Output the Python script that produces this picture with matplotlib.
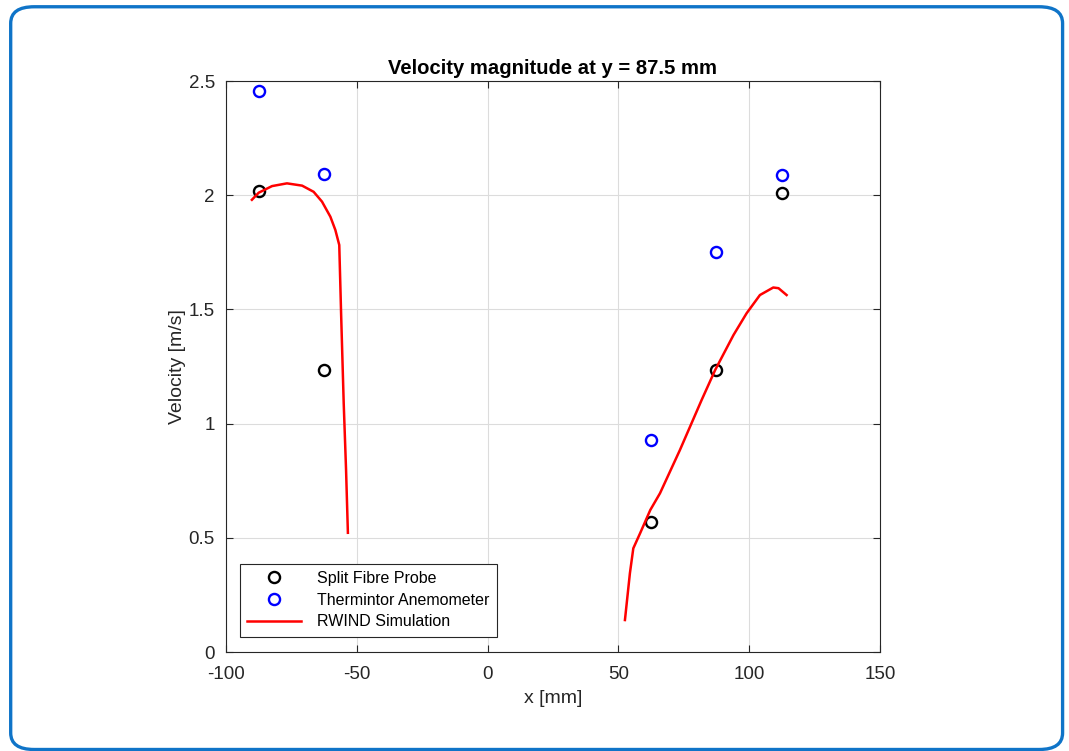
"""Velocity magnitude along y = 87.5 mm: probe measurements vs RWIND simulation."""

import matplotlib
matplotlib.use("Agg")
import matplotlib.pyplot as plt
from matplotlib.patches import FancyBboxPatch

plt.rcParams["font.family"] = ["Liberation Sans", "DejaVu Sans"]
plt.rcParams["axes.unicode_minus"] = False

# measurement positions [mm]
probe_x = [-87.5, -62.5, 62.5, 87.5, 112.5]
split_fibre = [2.018, 1.235, 0.569, 1.235, 2.01]
thermintor = [2.456, 2.093, 0.928, 1.751, 2.088]

# RWIND simulation, left and right halves of the profile
sim_left_x = [-90.1, -87.5, -82.4, -76.7, -70.9, -66.5, -63.3, -60.1, -58.2,
              -56.7, -56.0, -55.0, -54.1, -53.4]
sim_left_v = [1.98, 2.011, 2.04, 2.052, 2.042, 2.015, 1.972, 1.906, 1.848,
              1.782, 1.483, 1.089, 0.797, 0.522]
sim_right_x = [52.5, 54.4, 55.7, 58.3, 62.2, 65.9, 73.5, 81.8, 87.0, 94.0,
               99.0, 104.1, 109.2, 111.2, 114.3]
sim_right_v = [0.140, 0.345, 0.454, 0.520, 0.622, 0.695, 0.884, 1.103, 1.235,
               1.388, 1.483, 1.563, 1.596, 1.593, 1.563]

fig = plt.figure(figsize=(10.69, 7.51), dpi=100)

# rounded blue frame around the whole figure
frame = FancyBboxPatch((0.010, 0.002), 0.984, 0.989,
                       boxstyle="round,pad=0,rounding_size=0.022",
                       transform=fig.transFigure, fill=False,
                       edgecolor="#0f74c8", linewidth=2.4, zorder=0)
fig.patches.append(frame)

ax = fig.add_axes([0.2114, 0.1318, 0.6118, 0.7603])

ax.plot(probe_x, split_fibre, "o", color="black", mfc="none", ms=8, mew=1.7,
        label="Split Fibre Probe", ls="none")
ax.plot(probe_x, thermintor, "o", color="#0000ff", mfc="none", ms=8, mew=1.7,
        label="Thermintor Anemometer", ls="none")
ax.plot(sim_left_x, sim_left_v, color="#ff0000", lw=1.8, label="RWIND Simulation")
ax.plot(sim_right_x, sim_right_v, color="#ff0000", lw=1.8)

ax.set_xlim(-100, 150)
ax.set_ylim(0, 2.5)
ax.set_xticks([-100, -50, 0, 50, 100, 150])
ax.set_yticks([0, 0.5, 1, 1.5, 2, 2.5])
ax.set_yticklabels(["0", "0.5", "1", "1.5", "2", "2.5"])
ax.grid(True, color="#dcdcdc", lw=0.8)
ax.set_axisbelow(True)
ax.tick_params(direction="in", top=True, right=True, labelsize=13.5,
               colors="#262626", length=5, width=0.8, pad=8)
ax.tick_params(axis="x", pad=10)
for spine in ax.spines.values():
    spine.set_color("#262626")
    spine.set_linewidth(0.8)

ax.set_title("Velocity magnitude at y = 87.5 mm", fontsize=14.6,
             fontweight="bold", pad=5)
ax.set_xlabel("x [mm]", fontsize=14, color="#262626", labelpad=5)
ax.set_ylabel("Velocity [m/s]", fontsize=14, color="#262626", labelpad=2)

leg = ax.legend(loc="lower left", bbox_to_anchor=(0.021, 0.027), fontsize=11.5,
                fancybox=False, framealpha=1, edgecolor="#262626",
                handlelength=3.4, borderpad=0.45, labelspacing=0.42,
                handletextpad=1.0, borderaxespad=0)
leg.get_frame().set_linewidth(0.8)

fig.savefig("out.png", dpi=100)
plt.close(fig)
